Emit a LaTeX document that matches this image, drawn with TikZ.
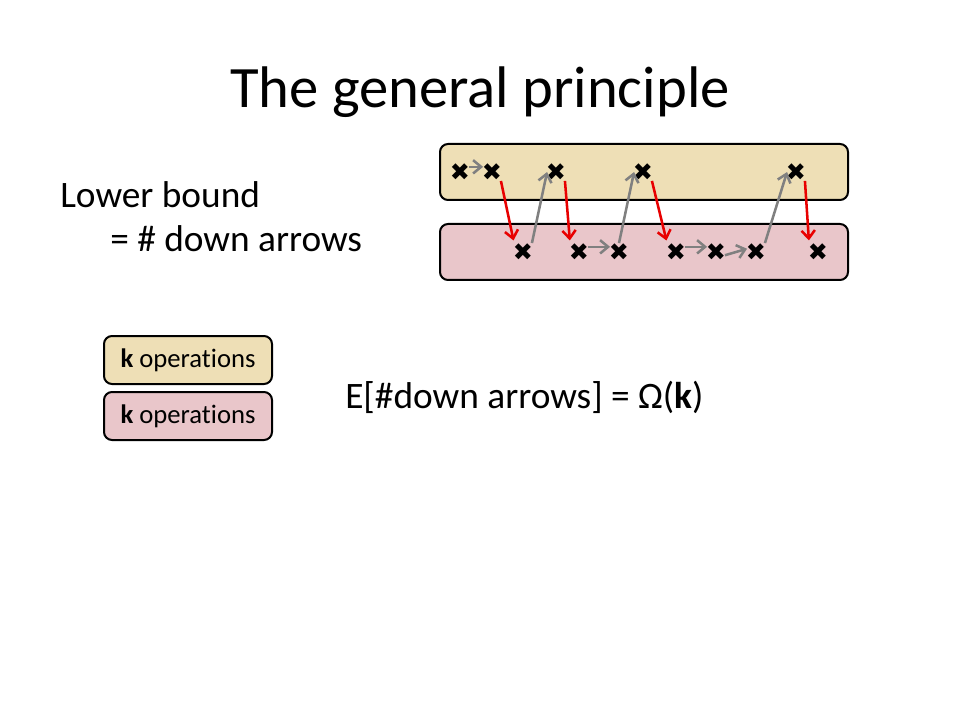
\documentclass[tikz,border=0pt]{standalone}
\usepackage{fontspec}
\setmainfont{Carlito}[Ligatures=CommonOff]
\newfontfamily\symfont{DejaVu Sans}
\usetikzlibrary{arrows.meta}

\definecolor{sand}{RGB}{238,223,182}
\definecolor{rose}{RGB}{233,198,202}
\definecolor{downred}{RGB}{232,0,0}
\definecolor{upgray}{RGB}{128,128,128}

\tikzset{
  bar/.style={draw=black, line width=1.5pt, rounded corners=6pt},
  opbox/.style={bar, minimum width=126pt, minimum height=36pt, inner sep=0pt,
    font=\fontsize{20}{22}\selectfont},
  xnode/.style={inner sep=0pt, minimum size=13pt,
    label={[inner sep=0pt]center:{\symfont\fontsize{18}{18}\selectfont ✖}}},
  downarrow/.style={draw=downred, line width=1.9pt, shorten >=2pt,
    -{Straight Barb[length=6pt,width=10pt]}},
  grayarrow/.style={draw=upgray, line width=1.9pt,
    -{Straight Barb[length=6pt,width=10pt]}},
  bodytext/.style={anchor=base west, inner sep=0pt, font=\fontsize{28}{32}\selectfont},
}

\begin{document}
\begin{tikzpicture}[x=0.75pt, y=-0.75pt]
  \useasboundingbox (0,0) rectangle (960,720);

  % title and the text on the left
  \node[anchor=base, inner sep=0pt, font=\fontsize{44}{52}\selectfont] (title) at (480,108) {The general principle};
  \node[bodytext] (lower) at (60,208) {Lower bound};
  \node[bodytext] (equals) at (110,252) {= \# down arrows};

  % the two rows of operations
  \draw[bar, fill=sand] (440,144) rectangle (848,200);
  \draw[bar, fill=rose] (440,224) rectangle (848,280);

  \node[xnode] (t1) at (460,172) {};
  \node[xnode] (t2) at (492,172) {};
  \node[xnode] (t3) at (556,172) {};
  \node[xnode] (t4) at (643,172) {};
  \node[xnode] (t5) at (796,172) {};

  \node[xnode] (b1) at (523,252) {};
  \node[xnode] (b2) at (579,252) {};
  \node[xnode] (b3) at (619,252) {};
  \node[xnode] (b4) at (676,252) {};
  \node[xnode] (b5) at (716,252) {};
  \node[xnode] (b6) at (756,252) {};
  \node[xnode] (b7) at (818,252) {};

  % arrows
  \draw[grayarrow] (t1.30) -- (t2.150);
  \draw[downarrow] (t2.south east) -- (b1.north west);
  \draw[grayarrow] (b1.north east) -- (t3.west);
  \draw[downarrow] (t3.south east) -- (b2.north west);
  \draw[grayarrow] (b2.30) -- (b3.150);
  \draw[grayarrow] (b3.north) -- (t4.west);
  \draw[downarrow] (t4.south east) -- (b4.north west);
  \draw[grayarrow] (b4.30) -- (b5.150);
  \draw[grayarrow] (b5.-20) -- (b6.160);
  \draw[grayarrow] (b6.north east) -- (t5.west);
  \draw[downarrow] (t5.south east) -- (b7.north west);

  % legend and expectation
  \node[opbox, fill=sand] (topops) at (188,360) {\textbf{k} operations};
  \node[opbox, fill=rose] (botops) at (188,416) {\textbf{k} operations};
  \node[bodytext] (expect) at (345,408) {E[\#down arrows] = Ω(\textbf{k})};
\end{tikzpicture}
\end{document}
